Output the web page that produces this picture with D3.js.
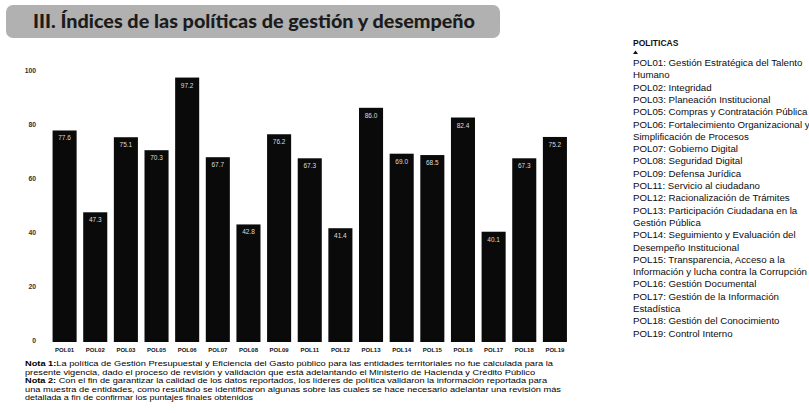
<!DOCTYPE html>
<html>
<head>
<meta charset="utf-8">
<script src="https://cdn.jsdelivr.net/npm/d3@7"></script>
<style>
  body { margin: 0; background: #fff; }
  svg { display: block; }
</style>
</head>
<body>
<svg id="chart" width="809" height="413"></svg>
<script>
// data
let politicas = ["POL01", "POL02", "POL03", "POL05", "POL06", "POL07", "POL08", "POL09",
    "POL11", "POL12", "POL13", "POL14", "POL15", "POL16", "POL17", "POL18", "POL19"];
let indices = [77.6, 47.3, 75.1, 70.3, 97.2, 67.7, 42.8, 76.2,
    67.3, 41.4, 86.0, 69.0, 68.5, 82.4, 40.1, 67.3, 75.2];
let yTicks = [0, 20, 40, 60, 80, 100];

let leyenda = [
    ["POL01: Gestión Estratégica del Talento", "Humano"],
    ["POL02: Integridad"],
    ["POL03: Planeación Institucional"],
    ["POL05: Compras y Contratación Pública"],
    ["POL06: Fortalecimiento Organizacional y", "Simplificación de Procesos"],
    ["POL07: Gobierno Digital"],
    ["POL08: Seguridad Digital"],
    ["POL09: Defensa Jurídica"],
    ["POL11: Servicio al ciudadano"],
    ["POL12: Racionalización de Trámites"],
    ["POL13: Participación Ciudadana en la", "Gestión Pública"],
    ["POL14: Seguimiento y Evaluación del", "Desempeño Institucional"],
    ["POL15: Transparencia, Acceso a la", "Información y lucha contra la Corrupción"],
    ["POL16: Gestión Documental"],
    ["POL17: Gestión de la Información", "Estadística"],
    ["POL18: Gestión del Conocimiento"],
    ["POL19: Control Interno"]
];

// each note line: bold lead (may be empty), rest of the line, width it fills
let notas = [
    ["Nota 1:", "La política de Gestión Presupuestal y Eficiencia del Gasto público para las entidades territoriales no fue calculada para la", 528],
    ["", "presente vigencia, dado el proceso de revisión y validación que está adelantando el Ministerio de Hacienda y Crédito Público", 510],
    ["Nota 2:", " Con el fin de garantizar la calidad de los datos reportados, los líderes de política validaron la información reportada para", 522],
    ["", "una muestra de entidades, como resultado se identificaron algunas sobre las cuales se hace necesario adelantar una revisión más", 536],
    ["", "detallada a fin de confirmar los puntajes finales obtenidos", 228]
];

let svg = d3.select("#chart");
let font = "'Liberation Sans', Arial, sans-serif";

// title banner
svg.append("rect")
    .attr("x", 6).attr("y", 5)
    .attr("width", 494).attr("height", 33)
    .attr("rx", 7)
    .attr("fill", "#b1b1b1");

svg.append("text")
    .attr("x", 33).attr("y", 28)
    .attr("font-family", "Lato, sans-serif")
    .attr("font-weight", 900)
    .attr("font-size", "18px")
    .attr("fill", "#1c1c1c")
    .attr("textLength", 442)
    .attr("lengthAdjust", "spacingAndGlyphs")
    .text("III. Índices de las políticas de gestión y desempeño");

// bar chart
let x = d3.scaleBand().domain(politicas).range([49.5, 570]).paddingInner(0.215).paddingOuter(0.1);
let y = d3.scaleLinear().domain([0, 100]).range([340, 70]);

let g = svg.append("g");

let yAxis = g.append("g")
    .attr("transform", "translate(38,0)")
    .call(d3.axisLeft(y).tickValues(yTicks).tickSize(0).tickPadding(2));
yAxis.select(".domain").remove();
yAxis.selectAll("text")
    .attr("font-family", font)
    .attr("font-weight", "bold")
    .attr("font-size", "6.8px")
    .attr("fill", "#333");

let xAxis = g.append("g")
    .attr("transform", "translate(0,343)")
    .call(d3.axisBottom(x).tickSize(0).tickPadding(5));
xAxis.select(".domain").remove();
xAxis.selectAll("text")
    .attr("font-family", font)
    .attr("font-weight", "bold")
    .attr("font-size", "6px")
    .attr("fill", "#111");

let datos = politicas.map(function(p, i) { return { pol: p, val: indices[i] }; });

g.selectAll(".bar")
    .data(datos)
    .enter().append("rect")
    .attr("class", "bar")
    .attr("fill", "#0a0a0a")
    .attr("x", function(d) { return x(d.pol); })
    .attr("y", function(d) { return y(d.val); })
    .attr("width", x.bandwidth())
    .attr("height", function(d) { return y(0) - y(d.val) + 2; });

g.selectAll(".val")
    .data(datos)
    .enter().append("text")
    .attr("class", "val")
    .attr("x", function(d) { return x(d.pol) + x.bandwidth() / 2; })
    .attr("y", function(d) { return y(d.val) + 10; })
    .attr("text-anchor", "middle")
    .attr("font-family", font)
    .attr("font-size", "6.5px")
    .attr("fill", "#dcdcdc")
    .text(function(d) { return d.val.toFixed(1); });

// notes
notas.forEach(function(linea, i) {
    let t = svg.append("text")
        .attr("x", 25).attr("y", 366 + i * 8.5)
        .attr("font-family", font)
        .attr("font-size", "7.2px")
        .attr("fill", "#000")
        .attr("textLength", linea[2])
        .attr("lengthAdjust", "spacingAndGlyphs");
    if (linea[0]) t.append("tspan").attr("font-weight", "bold").text(linea[0]);
    t.append("tspan").text(linea[1]);
});

// legend
svg.append("text")
    .attr("x", 633).attr("y", 46)
    .attr("font-family", font)
    .attr("font-weight", "bold")
    .attr("font-size", "8.5px")
    .attr("fill", "#111")
    .text("POLITICAS");

svg.append("path")
    .attr("d", "M633,54 L635.5,50.5 L638,54 Z")
    .attr("fill", "#111");

let ly = 66;
let leg = svg.append("g")
    .attr("font-family", font)
    .attr("font-size", "9.7px")
    .attr("fill", "#0d0d0d");
leyenda.forEach(function(item) {
    item.forEach(function(linea) {
        leg.append("text")
            .attr("x", 633).attr("y", ly)
            .text(linea);
        ly += 12.3;
    });
});
</script>
</body>
</html>
